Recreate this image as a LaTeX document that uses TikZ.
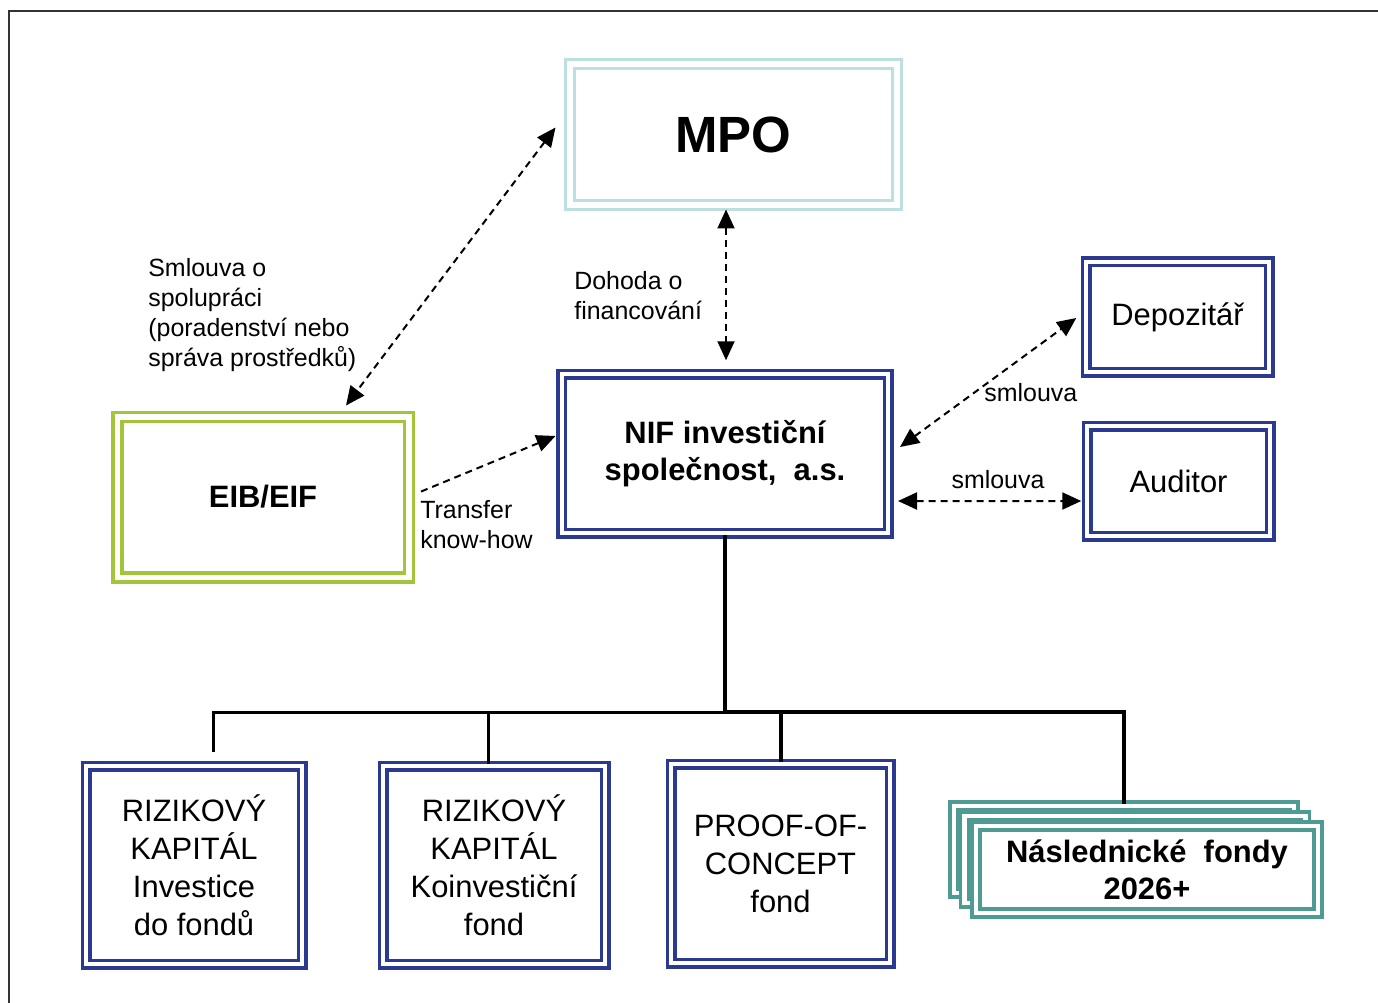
\documentclass[tikz,border=0pt]{standalone}
\usepackage{fontspec}
\setmainfont{Liberation Sans}
\usetikzlibrary{arrows.meta,calc}

\definecolor{mpoteal}{RGB}{188,224,224}
\definecolor{nifblue}{RGB}{43,57,144}
\definecolor{eibgreen}{RGB}{163,197,58}
\definecolor{fondteal}{RGB}{78,155,148}

\begin{document}
\begin{tikzpicture}[x=0.02cm,y=-0.02cm,>={Triangle[length=0.38cm,width=0.34cm]},
boxsize/.style 2 args={minimum width=#1*0.02cm, minimum height=#2*0.02cm},
mpobox/.style ={rectangle, draw=mpoteal, line width=0.06cm, double=white, double distance=0.12cm, fill=white, inner sep=0pt, align=center},
nifbox/.style ={rectangle, draw=nifblue, line width=0.07cm, double=white, double distance=0.08cm, fill=white, inner sep=0pt, align=center},
eibbox/.style ={rectangle, draw=eibgreen, line width=0.07cm, double=white, double distance=0.11cm, fill=white, inner sep=0pt, align=center},
fondbox/.style ={rectangle, draw=fondteal, line width=0.07cm, double=white, double distance=0.09cm, fill=white, inner sep=0pt, align=center},
bigtxt/.style ={font=\fontsize{17.6}{21.6}\selectfont},
boldtxt/.style ={font=\bfseries\fontsize{17.6}{21.2}\selectfont},
lbl/.style ={inner sep=0pt, align=left, anchor=west, font=\fontsize{14.2}{17}\selectfont},
dlink/.style ={line width=0.04cm, dash pattern=on 0.14cm off 0.1cm, <->},
trunk/.style ={line width=0.08cm},
branch/.style ={line width=0.06cm}
]
\useasboundingbox (0,0) rectangle (1378,1003);
\draw[line width=0.04cm, black!80] (9,1003) -- (9,11) -- (1378,11);

% top row
\draw (733.5,134.5) node[mpobox, boxsize={327}{141}, font=\bfseries\fontsize{29}{34}\selectfont] (mpo) {MPO};
\draw (725,453.5) node[nifbox, boxsize={326.5}{159}, boldtxt] (nif) {NIF investiční\\společnost,\ \ a.s.};
\draw (263,497) node[eibbox, boxsize={291.5}{160.5}, boldtxt] (eib) {EIB/EIF};
\draw (1177.5,317) node[nifbox, boxsize={183}{110.5}, bigtxt] (dep) {Depozitář};
\draw (1178.5,481) node[nifbox, boxsize={183}{110}, bigtxt] (aud) {Auditor};

% funds
\draw (194,865) node[nifbox, boxsize={216}{198}, bigtxt] (rk1) {RIZIKOVÝ\\KAPITÁL\\Investice\\do fondů};
\draw (494,865) node[nifbox, boxsize={222}{198}, bigtxt] (rk2) {RIZIKOVÝ\\KAPITÁL\\Koinvestiční\\fond};
\draw (780.5,863.5) node[nifbox, boxsize={219}{199}, bigtxt] (poc) {PROOF-OF-\\CONCEPT\\fond};
\draw (1124,849.5) node[fondbox, boxsize={340}{87}] (nas1) {};
\draw (1135,859.5) node[fondbox, boxsize={341}{87}] (nas2) {};
\draw (1147,869.5) node[fondbox, boxsize={342}{87}, boldtxt] (nas3) {Následnické\ \ fondy\\2026+};

% labels
\draw (148,315) node[lbl] (lspol) {Smlouva o\\spolupráci\\(poradenství nebo\\správa prostředků)};
\draw (574,296) node[lbl] (lfin) {Dohoda o\\financování};
\draw (420,524.5) node[lbl] (lknow) {Transfer\\know-how};
\draw (984,393) node[lbl] (ldep) {smlouva};
\draw (998,480) node[lbl, anchor=center] (laud) {smlouva};

% links
\draw[dlink] ([shift={(-13,-7)}]mpo.west) -- ([shift={(83,-9.5)}]eib.north);
\draw[dlink] ([shift={(-7.5,3)}]mpo.south) -- ([shift={(1,-12)}]nif.north);
\draw[dlink,<-] ([shift={(-4.5,-17.5)}]nif.west) -- ([shift={(7,-4)}]eib.east);
\draw[dlink] ([shift={(10,-6.5)}]nif.east) -- ([shift={(-8,1)}]dep.west);
\draw[dlink] ([shift={(8,47.5)}]nif.east) -- ([shift={(-4,20)}]aud.west);

% tree
\coordinate (bus) at (725,712);
\draw[trunk] (nif.south) -- (bus);
\draw[trunk] (bus) -| (nas1.north);
\draw[trunk] (bus) -| (poc.north);
\draw[branch] (bus) -| ([shift={(19,-12)}]rk1.north);
\draw[branch] (bus) -| ([xshift=-6*0.02cm]rk2.north);
\end{tikzpicture}
\end{document}
